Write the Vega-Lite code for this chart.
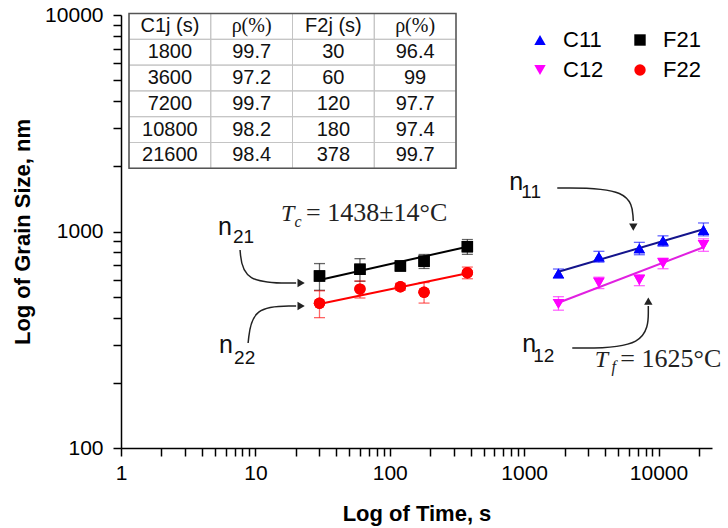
{
"$schema":"https://vega.github.io/schema/vega-lite/v6.json",
"autosize":"none",
"width":591,"height":433,
"padding":{"left":121,"top":15,"right":16,"bottom":80},
"background":"white",
"config":{"view":{"stroke":null},"font":"Liberation Sans"},
"datasets":{
"pts":[
{"s":"C11","t":1800,"g":641,"lo":611,"hi":671},
{"s":"C11","t":3600,"g":765,"lo":722,"hi":810},
{"s":"C11","t":7200,"g":836,"lo":781,"hi":891},
{"s":"C11","t":10800,"g":907,"lo":855,"hi":955},
{"s":"C11","t":21600,"g":1016,"lo":955,"hi":1095},
{"s":"C12","t":1800,"g":463,"lo":433,"hi":500},
{"s":"C12","t":3600,"g":580,"lo":545,"hi":615},
{"s":"C12","t":7200,"g":597,"lo":562,"hi":632},
{"s":"C12","t":10800,"g":713,"lo":673,"hi":753},
{"s":"C12","t":21600,"g":866,"lo":810,"hi":925},
{"s":"F21","t":30,"g":623,"lo":535,"hi":711},
{"s":"F21","t":60,"g":669,"lo":589,"hi":749},
{"s":"F21","t":120,"g":693,"lo":663,"hi":723},
{"s":"F21","t":180,"g":729,"lo":675,"hi":783},
{"s":"F21","t":378,"g":851,"lo":784,"hi":918},
{"s":"F22","t":30,"g":466,"lo":400,"hi":532},
{"s":"F22","t":60,"g":542,"lo":493,"hi":591},
{"s":"F22","t":120,"g":556,"lo":536,"hi":576},
{"s":"F22","t":180,"g":524,"lo":467,"hi":581},
{"s":"F22","t":378,"g":645,"lo":605,"hi":685}
],
"fits":[
{"s":"C11","t":1800,"g":652},{"s":"C11","t":21600,"g":1024},
{"s":"C12","t":1800,"g":469},{"s":"C12","t":21600,"g":846},
{"s":"F21","t":30,"g":597},{"s":"F21","t":378,"g":851},
{"s":"F22","t":30,"g":463},{"s":"F22","t":378,"g":641}
],
"arrows":[
{"a":"n21","o":1,"t":7.69,"g":821},{"a":"n21","o":2,"t":8.1,"g":578},{"a":"n21","o":3,"t":20.1,"g":578},
{"a":"n22","o":1,"t":8.83,"g":305.5},{"a":"n22","o":2,"t":9.45,"g":453},{"a":"n22","o":3,"t":20.1,"g":453},
{"a":"n11","o":1,"t":1764,"g":1588},{"a":"n11","o":2,"t":6273,"g":1588},{"a":"n11","o":3,"t":6490,"g":1118},
{"a":"n12","o":1,"t":2281,"g":289.5},{"a":"n12","o":2,"t":8395,"g":289.5},{"a":"n12","o":3,"t":8395,"g":453}
],
"heads":[
{"a":"n21","d":"right","t":21.9,"g":578},
{"a":"n22","d":"right","t":21.9,"g":453},
{"a":"n11","d":"down","t":6490,"g":1049},
{"a":"n12","d":"up","t":8395,"g":477.5}
],
"nlab":[
{"txt":"n","t":5.28,"g":963.4},{"txt":"21","t":6.82,"g":885},
{"txt":"n","t":5.37,"g":274.7},{"txt":"22","t":6.94,"g":244.3},
{"txt":"n","t":774.5,"g":1555},{"txt":"11","t":951.6,"g":1428},
{"txt":"n","t":967.7,"g":277.6},{"txt":"12","t":1169,"g":249.6}
],
"eqs":[
{"k":"T","txt":"T","t":15.54,"g":1122},
{"k":"sub","txt":"c","t":19.52,"g":1052},
{"k":"eq","txt":"= 1438±14°C","t":23.85,"g":1122},
{"k":"T","txt":"T","t":3350,"g":236.6},
{"k":"sub","txt":"f","t":4458,"g":224.4},
{"k":"eq","txt":"= 1625°C","t":5200,"g":236.6}
],
"tbl":[
{"r":"h","c":"a","t":"C1j (s)"},{"r":"h","c":"b","t":"ρ(%)"},{"r":"h","c":"c","t":"F2j (s)"},{"r":"h","c":"d","t":"ρ(%)"},
{"r":"r1","c":"a","t":"1800"},{"r":"r1","c":"b","t":"99.7"},{"r":"r1","c":"c","t":"30"},{"r":"r1","c":"d","t":"96.4"},
{"r":"r2","c":"a","t":"3600"},{"r":"r2","c":"b","t":"97.2"},{"r":"r2","c":"c","t":"60"},{"r":"r2","c":"d","t":"99"},
{"r":"r3","c":"a","t":"7200"},{"r":"r3","c":"b","t":"99.7"},{"r":"r3","c":"c","t":"120"},{"r":"r3","c":"d","t":"97.7"},
{"r":"r4","c":"a","t":"10800"},{"r":"r4","c":"b","t":"98.2"},{"r":"r4","c":"c","t":"180"},{"r":"r4","c":"d","t":"97.4"},
{"r":"r5","c":"a","t":"21600"},{"r":"r5","c":"b","t":"98.4"},{"r":"r5","c":"c","t":"378"},{"r":"r5","c":"d","t":"99.7"}
]
},
"layer":[
{
"encoding":{
"x":{"field":"t","type":"quantitative","scale":{"type":"log","domain":[1,25000],"nice":false},
"axis":{"orient":"bottom","values":[1,2,3,4,5,6,7,8,9,10,20,30,40,50,60,70,80,90,100,200,300,400,500,600,700,800,900,1000,2000,3000,4000,5000,6000,7000,8000,9000,10000,20000],
"labelExpr":"abs(log(datum.value)/LN10 - round(log(datum.value)/LN10)) < 0.001 ? format(datum.value, 'd') : ''",
"title":"Log of Time, s","titleFontSize":22,"titleFontWeight":"bold","titleColor":"#000","titlePadding":20,
"labelFontSize":21,"labelColor":"#000","labelPadding":6,"labelOverlap":false,"labelFlush":false,"labelBound":false,
"grid":false,"domainColor":"#000","domainWidth":1.5,"tickColor":"#000","tickWidth":1.5,"tickSize":8,
"encode":{"ticks":{"update":{"y2":{"signal":"abs(log(datum.value)/LN10 - round(log(datum.value)/LN10)) < 0.001 ? 8 : 5"}}}}}},
"y":{"field":"g","type":"quantitative","scale":{"type":"log","domain":[100,10000],"nice":false},
"axis":{"orient":"left","values":[100,200,300,400,500,600,700,800,900,1000,2000,3000,4000,5000,6000,7000,8000,9000,10000],
"labelExpr":"abs(log(datum.value)/LN10 - round(log(datum.value)/LN10)) < 0.001 ? format(datum.value, 'd') : ''",
"title":"Log of Grain Size, nm","titleFontSize":22,"titleFontWeight":"bold","titleColor":"#000","titlePadding":10,
"labelFontSize":21,"labelColor":"#000","labelPadding":10,"labelOverlap":false,"labelBound":false,
"grid":false,"domainColor":"#000","domainWidth":1.5,"tickColor":"#000","tickWidth":1.5,"tickSize":8,
"encode":{"ticks":{"update":{"x2":{"signal":"abs(log(datum.value)/LN10 - round(log(datum.value)/LN10)) < 0.001 ? -8 : -5"}}}}}}
},
"layer":[
{"data":{"name":"pts"},"mark":{"type":"point","filled":true,"size":130,"opacity":1},
"encoding":{
"color":{"field":"s","type":"nominal","scale":{"domain":["C11","C12","F21","F22"],"range":["#0000ff","#ff00ff","#000000","#ff0000"]},
"legend":{"orient":"none","legendX":408,"legendY":14,"columns":2,"title":null,"labelFontSize":22,"labelColor":"#000","symbolSize":130,"labelOffset":12,"columnPadding":25,"rowPadding":8,"symbolStrokeWidth":0,"padding":0}},
"shape":{"field":"s","type":"nominal","scale":{"domain":["C11","C12","F21","F22"],"range":["triangle-up","triangle-down","square","circle"]},
"legend":{"orient":"none","legendX":408,"legendY":14,"columns":2,"title":null,"labelFontSize":22,"labelColor":"#000","symbolSize":130,"labelOffset":12,"columnPadding":25,"rowPadding":8,"symbolStrokeWidth":0,"padding":0}}}},
{"data":{"name":"fits"},"mark":{"type":"line","strokeWidth":2},
"encoding":{"stroke":{"field":"s","type":"nominal","scale":{"domain":["C11","C12","F21","F22"],"range":["#14148c","#e020e0","#000000","#ff0000"]},"legend":null}}},
{"data":{"name":"pts"},"mark":{"type":"rule","strokeWidth":1.3,"opacity":0.6},
"encoding":{"y":{"field":"lo","type":"quantitative","title":"Log of Grain Size, nm"},"y2":{"field":"hi"},"color":{"field":"s","type":"nominal","legend":null}}},
{"data":{"name":"pts"},"mark":{"type":"tick","orient":"horizontal","size":11,"thickness":1.3,"opacity":0.6},
"encoding":{"y":{"field":"lo","type":"quantitative","title":"Log of Grain Size, nm"},"color":{"field":"s","type":"nominal","legend":null}}},
{"data":{"name":"pts"},"mark":{"type":"tick","orient":"horizontal","size":11,"thickness":1.3,"opacity":0.6},
"encoding":{"y":{"field":"hi","type":"quantitative","title":"Log of Grain Size, nm"},"color":{"field":"s","type":"nominal","legend":null}}},
{"data":{"name":"pts"},"mark":{"type":"point","filled":true,"size":130,"opacity":1},
"encoding":{"color":{"field":"s","type":"nominal"},"shape":{"field":"s","type":"nominal"}}},
{"data":{"name":"arrows"},"mark":{"type":"line","interpolate":"basis","strokeWidth":1.5,"color":"#222"},
"encoding":{"detail":{"field":"a"},"order":{"field":"o","type":"quantitative"}}},
{"data":{"name":"heads"},"transform":[{"filter":"datum.d == 'right'"}],"mark":{"type":"point","shape":"triangle-right","filled":true,"size":70,"color":"#222","opacity":1}},
{"data":{"name":"heads"},"transform":[{"filter":"datum.d == 'down'"}],"mark":{"type":"point","shape":"triangle-down","filled":true,"size":70,"color":"#222","opacity":1}},
{"data":{"name":"heads"},"transform":[{"filter":"datum.d == 'up'"}],"mark":{"type":"point","shape":"triangle-up","filled":true,"size":70,"color":"#222","opacity":1}},
{"data":{"name":"nlab"},"transform":[{"filter":"datum.txt == 'n'"}],"mark":{"type":"text","align":"left","baseline":"alphabetic","fontSize":25,"font":"Liberation Sans","color":"#111"},
"encoding":{"text":{"field":"txt"}}},
{"data":{"name":"nlab"},"transform":[{"filter":"datum.txt != 'n'"}],"mark":{"type":"text","align":"left","baseline":"alphabetic","fontSize":19,"font":"Liberation Sans","color":"#111"},
"encoding":{"text":{"field":"txt"}}},
{"data":{"name":"eqs"},"transform":[{"filter":"datum.k == 'T'"}],"mark":{"type":"text","align":"left","baseline":"alphabetic","fontSize":24,"font":"Liberation Serif","fontStyle":"italic","color":"#222"},
"encoding":{"text":{"field":"txt"}}},
{"data":{"name":"eqs"},"transform":[{"filter":"datum.k == 'sub'"}],"mark":{"type":"text","align":"left","baseline":"alphabetic","fontSize":16,"font":"Liberation Serif","fontStyle":"italic","color":"#222"},
"encoding":{"text":{"field":"txt"}}},
{"data":{"name":"eqs"},"transform":[{"filter":"datum.k == 'eq'"}],"mark":{"type":"text","align":"left","baseline":"alphabetic","fontSize":26,"font":"Liberation Serif","color":"#222"},
"encoding":{"text":{"field":"txt"}}}
]
},
{
"data":{"name":"tbl"},
"encoding":{
"x":{"field":"c","type":"nominal","scale":{"type":"band","domain":["a","b","c","d","end"],"range":[8,416.75],"paddingInner":0,"paddingOuter":0},"axis":null},
"y":{"field":"r","type":"nominal","scale":{"type":"band","domain":["h","r1","r2","r3","r4","r5","end"],"range":[-1.5,179.1],"paddingInner":0,"paddingOuter":0},"axis":null}
},
"layer":[
{"data":{"values":[{}]},"mark":{"type":"rect","fill":"white"},
"encoding":{"x":{"datum":"a","bandPosition":0},"x2":{"datum":"end","bandPosition":0},"y":{"datum":"h","bandPosition":0},"y2":{"datum":"end","bandPosition":0}}},
{"mark":{"type":"rect","filled":false,"stroke":"#c4c4c4","strokeWidth":1}},
{"data":{"values":[{}]},"mark":{"type":"rect","filled":false,"stroke":"#555","strokeWidth":1.5},
"encoding":{"x":{"datum":"a","bandPosition":0},"x2":{"datum":"end","bandPosition":0},"y":{"datum":"h","bandPosition":0},"y2":{"datum":"end","bandPosition":0}}},
{"transform":[{"filter":"datum.t != 'ρ(%)'"}],"mark":{"type":"text","fontSize":20,"font":"Liberation Sans","baseline":"middle","color":"#111"},
"encoding":{"text":{"field":"t"}}},
{"transform":[{"filter":"datum.t == 'ρ(%)'"}],"mark":{"type":"text","fontSize":20,"font":"Liberation Serif","baseline":"middle","color":"#111"},
"encoding":{"text":{"field":"t"}}}
]
}
],
"resolve":{"scale":{"x":"independent","y":"independent"}}
}
